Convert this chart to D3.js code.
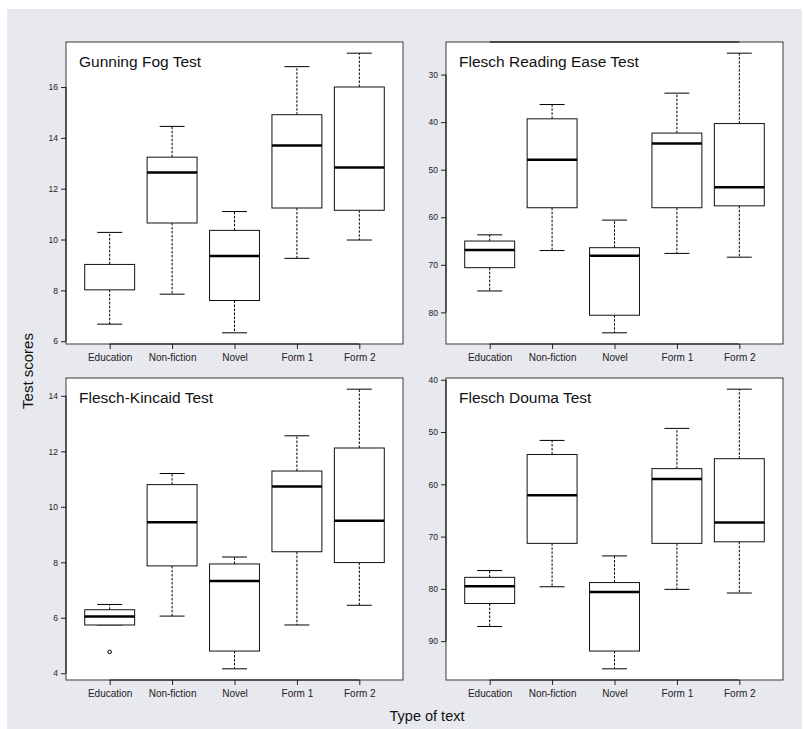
<!DOCTYPE html>
<html>
<head>
<meta charset="utf-8">
<script src="https://cdn.jsdelivr.net/npm/d3@7"></script>
<style>
  body { margin: 0; background: #fff; }
  text { font-family: "Liberation Sans", Arial, sans-serif; }
</style>
</head>
<body>
<div id="graph"></div>
<script>
// categories shared by all four panels
var categories = ["Education", "Non-fiction", "Novel", "Form 1", "Form 2"];

// each row: [lower whisker, Q1, median, Q3, upper whisker]
var fogStats = [
    [6.67, 8.02, null, 9.02, 10.28],
    [7.85, 10.65, 12.64, 13.24, 14.45],
    [6.33, 7.60, 9.35, 10.36, 11.10],
    [9.26, 11.24, 13.70, 14.91, 16.80],
    [9.98, 11.15, 12.83, 16.00, 17.33]
];
var easeStats = [
    [63.7, 65.0, 66.9, 70.6, 75.5],
    [36.3, 39.3, 47.9, 58.0, 67.0],
    [60.6, 66.4, 68.1, 80.6, 84.3],
    [33.9, 42.3, 44.5, 58.0, 67.6],
    [25.5, 40.3, 53.7, 57.6, 68.4]
];
var kincaidStats = [
    [5.74, 5.74, 6.05, 6.29, 6.48],
    [6.06, 7.87, 9.44, 10.80, 11.20],
    [4.16, 4.80, 7.33, 7.94, 8.19],
    [5.74, 8.38, 10.73, 11.29, 12.56],
    [6.45, 7.99, 9.50, 12.12, 14.24]
];
var doumaStats = [
    [76.5, 77.8, 79.5, 82.8, 87.2],
    [51.6, 54.3, 62.1, 71.3, 79.6],
    [73.7, 78.8, 80.6, 91.9, 95.3],
    [49.3, 57.0, 59.0, 71.3, 80.1],
    [41.8, 55.1, 67.3, 71.0, 80.8]
];
// outliers: [category index, value]
var kincaidOutliers = [[0, 4.77]];

var fogTicks = [6, 8, 10, 12, 14, 16];
var easeTicks = [30, 40, 50, 60, 70, 80];
var kincaidTicks = [4, 6, 8, 10, 12, 14];
var doumaTicks = [40, 50, 60, 70, 80, 90];

var panels = [
    {title: "Gunning Fog Test", stats: fogStats, ticks: fogTicks, outliers: [], reverse: false, left: 66, top: 42},
    {title: "Flesch Reading Ease Test", stats: easeStats, ticks: easeTicks, outliers: [], reverse: true, left: 446, top: 42, topAxis: true},
    {title: "Flesch-Kincaid Test", stats: kincaidStats, ticks: kincaidTicks, outliers: kincaidOutliers, reverse: false, left: 66, top: 378},
    {title: "Flesch Douma Test", stats: doumaStats, ticks: doumaTicks, outliers: [], reverse: true, left: 446, top: 378}
];

var pw = 337, ph = 302;

var svg = d3.select("#graph")
    .append("svg")
    .attr("width", 804)
    .attr("height", 729);

// grey plotting background
svg.append("rect")
    .attr("x", 7)
    .attr("y", 9)
    .attr("width", 795)
    .attr("height", 720)
    .attr("fill", "#e8e9ef");

function drawPanel(p) {
    var g = svg.append("g")
        .attr("transform", "translate(" + p.left + "," + p.top + ")");

    // R style 4% padding around the data range
    var vals = [];
    p.stats.forEach(function(s) { s.forEach(function(v) { if (v != null) vals.push(v); }); });
    p.outliers.forEach(function(o) { vals.push(o[1]); });
    var ext = d3.extent(vals);
    var pad = (ext[1] - ext[0]) * 0.04;
    var yScale = d3.scaleLinear()
        .domain([ext[0] - pad, ext[1] + pad])
        .range(p.reverse ? [0, ph] : [ph, 0]);
    var xScale = d3.scaleLinear()
        .domain([0.3, 5.7])
        .range([0, pw]);

    g.append("rect")
        .attr("width", pw)
        .attr("height", ph)
        .attr("fill", "#fff")
        .attr("stroke", "#3a3a3a")
        .attr("stroke-width", 1);

    // y axis
    var yaxis = d3.axisLeft(yScale)
        .tickValues(p.ticks)
        .tickSize(5)
        .tickPadding(3);
    var ya = g.append("g").call(yaxis);
    ya.select(".domain").remove();
    ya.selectAll("text").style("font-size", "8.5px").attr("fill", "#222");
    ya.selectAll("line").attr("stroke", "#222");
    var tExt = d3.extent(p.ticks);
    g.append("line")
        .attr("x1", 0).attr("x2", 0)
        .attr("y1", yScale(tExt[0])).attr("y2", yScale(tExt[1]))
        .attr("stroke", "#111");

    // x axis
    var xaxis = d3.axisBottom(xScale)
        .tickValues([1, 2, 3, 4, 5])
        .tickFormat(function(d) { return categories[d - 1]; })
        .tickSize(5)
        .tickPadding(5);
    var xa = g.append("g")
        .attr("transform", "translate(0," + ph + ")")
        .call(xaxis);
    xa.select(".domain").remove();
    xa.selectAll("text").style("font-size", "10px").attr("fill", "#222");
    xa.selectAll("line").attr("stroke", "#222");
    g.append("line")
        .attr("x1", xScale(1)).attr("x2", xScale(5))
        .attr("y1", ph).attr("y2", ph)
        .attr("stroke", "#111");
    if (p.topAxis) {
        // slightly darker stretch on the top frame
        g.append("line")
            .attr("x1", xScale(1)).attr("x2", xScale(5))
            .attr("y1", 0).attr("y2", 0)
            .attr("stroke", "#000")
            .attr("stroke-width", 1);
    }

    // boxes
    var box = g.selectAll(".box")
        .data(p.stats)
        .enter()
        .append("g")
        .attr("class", "box");
    // whiskers
    box.append("line")
        .attr("x1", function(d, i) { return xScale(i + 1); })
        .attr("x2", function(d, i) { return xScale(i + 1); })
        .attr("y1", function(d) { return yScale(d[3]); })
        .attr("y2", function(d) { return yScale(d[4]); })
        .attr("stroke", "#000")
        .attr("stroke-dasharray", "2.5,1.5");
    box.append("line")
        .attr("x1", function(d, i) { return xScale(i + 1); })
        .attr("x2", function(d, i) { return xScale(i + 1); })
        .attr("y1", function(d) { return yScale(d[1]); })
        .attr("y2", function(d) { return yScale(d[0]); })
        .attr("stroke", "#000")
        .attr("stroke-dasharray", "2.5,1.5");
    // staples
    [0, 4].forEach(function(k) {
        box.append("line")
            .attr("x1", function(d, i) { return xScale(i + 0.8); })
            .attr("x2", function(d, i) { return xScale(i + 1.2); })
            .attr("y1", function(d) { return yScale(d[k]); })
            .attr("y2", function(d) { return yScale(d[k]); })
            .attr("stroke", "#000");
    });
    box.append("rect")
        .attr("x", function(d, i) { return xScale(i + 0.6); })
        .attr("width", xScale(1.4) - xScale(0.6))
        .attr("y", function(d) { return Math.min(yScale(d[1]), yScale(d[3])); })
        .attr("height", function(d) { return Math.abs(yScale(d[1]) - yScale(d[3])); })
        .attr("fill", "#fff")
        .attr("stroke", "#111")
        .attr("stroke-width", 1);
    box.filter(function(d) { return d[2] != null; })
        .append("line")
        .attr("x1", function(d) { return xScale(p.stats.indexOf(d) + 0.6); })
        .attr("x2", function(d) { return xScale(p.stats.indexOf(d) + 1.4); })
        .attr("y1", function(d) { return yScale(d[2]); })
        .attr("y2", function(d) { return yScale(d[2]); })
        .attr("stroke", "#000")
        .attr("stroke-width", 2.5);

    // outliers
    g.selectAll(".out")
        .data(p.outliers)
        .enter()
        .append("circle")
        .attr("cx", function(d) { return xScale(d[0] + 1); })
        .attr("cy", function(d) { return yScale(d[1]); })
        .attr("r", 1.8)
        .attr("fill", "none")
        .attr("stroke", "#000");

    // panel title
    g.append("text")
        .attr("x", 13)
        .attr("y", 25)
        .style("font-size", "15.5px")
        .attr("fill", "#111")
        .text(p.title);
}

panels.forEach(drawPanel);

// shared axis titles
svg.append("text")
    .attr("transform", "translate(33,371) rotate(-90)")
    .style("text-anchor", "middle")
    .style("font-size", "15px")
    .attr("fill", "#111")
    .text("Test scores");
svg.append("text")
    .attr("x", 427)
    .attr("y", 721)
    .style("text-anchor", "middle")
    .style("font-size", "14.5px")
    .attr("fill", "#111")
    .text("Type of text");
</script>
</body>
</html>
